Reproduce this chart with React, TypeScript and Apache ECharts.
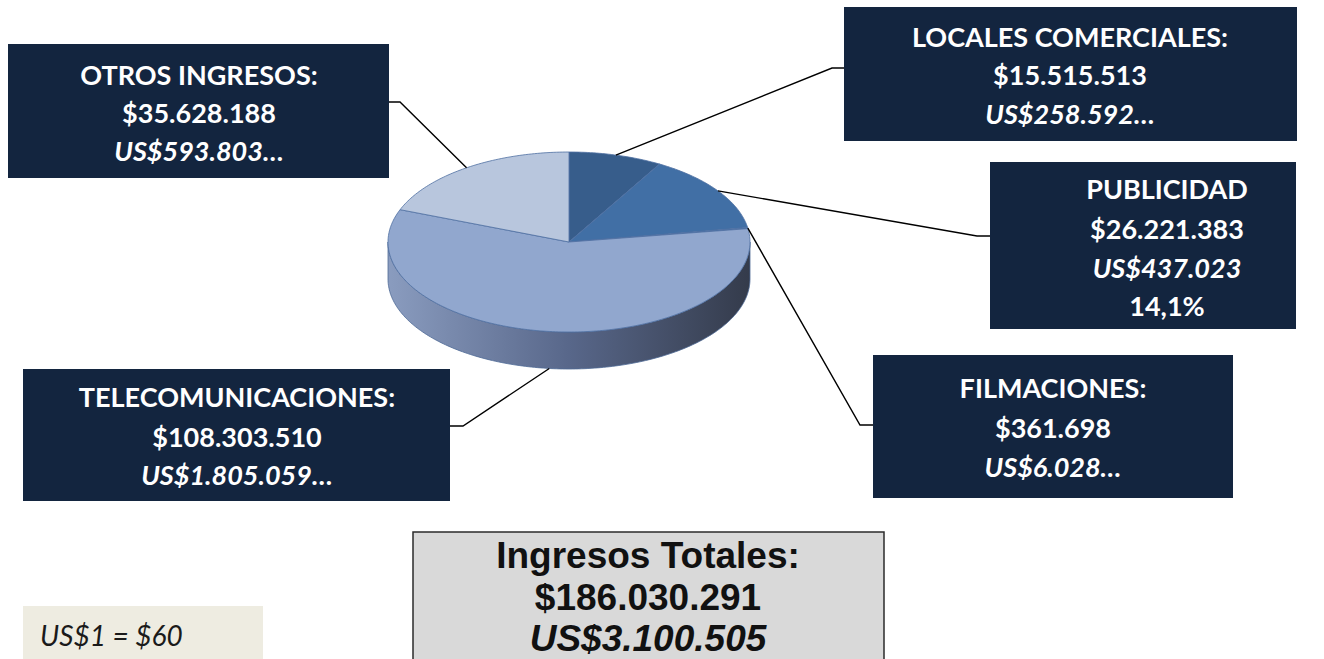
import React, { useEffect, useRef } from "react";
import * as echarts from "echarts";

const categories = ["LOCALES COMERCIALES", "PUBLICIDAD", "FILMACIONES", "TELECOMUNICACIONES", "OTROS INGRESOS"];
const valuesCLP = [15515513, 26221383, 361698, 108303510, 35628188];
const valuesUSD = [258592, 437023, 6028, 1805059, 593803];
const titleColon = [true, false, true, true, true];
const usdEllipsis = [true, false, true, true, true];
const showPercent = [false, true, false, false, false];
const sliceColors = ["#375D8B", "#416FA5", "#4A78B0", "#91A7CE", "#B8C6DD"];
const totalCLP = 186030291;
const totalUSD = 3100505;
const exchangeNote = "US$1 = $60";
const totalTitle = "Ingresos Totales:";

// layout (positions only)
const CX = 569, CY = 242, RX = 181, RY = 90, DEPTH = 37;
const boxes = [
  { x: 844, y: 7, w: 453, h: 134, tx: 1070, ty: [36, 74, 113], elbow: [832, 68], edge: [845, 68] },
  { x: 990, y: 162, w: 306, h: 167, tx: 1167, ty: [188, 228, 267, 305], elbow: [977, 236], edge: [990, 236] },
  { x: 873, y: 355, w: 360, h: 143, tx: 1053, ty: [387, 427, 466], elbow: [860, 425], edge: [873, 425] },
  { x: 23, y: 369, w: 427, h: 132, tx: 237, ty: [396, 436, 474], elbow: [463, 426], edge: [450, 426] },
  { x: 8, y: 44, w: 381, h: 134, tx: 199, ty: [74, 112, 150], elbow: [400, 102], edge: [389, 102] },
];

const fmt = (n: number) => String(n).replace(/\B(?=(\d{3})+(?!\d))/g, ".");

function pt(theta: number, dy = 0): number[] {
  const r = (theta * Math.PI) / 180;
  return [CX + RX * Math.sin(r), CY - RY * Math.cos(r) + dy];
}

function arc(a: number, b: number, dy = 0): number[][] {
  const pts: number[][] = [];
  const n = Math.max(2, Math.ceil(Math.abs(b - a) / 1));
  for (let i = 0; i <= n; i++) pts.push(pt(a + ((b - a) * i) / n, dy));
  return pts;
}

export default function App() {
  const ref = useRef<HTMLDivElement>(null);
  useEffect(() => {
    document.body.style.margin = "0";
    const chart = echarts.init(ref.current!, undefined, { renderer: "svg" });
    const sum = valuesCLP.reduce((s, v) => s + v, 0);
    const sideGrad = new echarts.graphic.LinearGradient(
      CX - RX, 0, CX + RX, 0,
      [
        { offset: 0, color: "#8A9CBF" },
        { offset: 0.5, color: "#58678A" },
        { offset: 1, color: "#343B4B" },
      ],
      true
    );

    const renderItem = (params: any, api: any) => {
      const i = params.dataIndex;
      let before = 0;
      for (let k = 0; k < i; k++) before += valuesCLP[k];
      const v = api.value(0);
      const a = (before / sum) * 360;
      const b = ((before + v) / sum) * 360;
      const children: any[] = [];
      const sa = Math.max(a, 90), sb = Math.min(b, 270);
      if (sb > sa) {
        const top = arc(sa, sb);
        const bot = arc(sb, sa, DEPTH);
        children.push({
          type: "polygon",
          shape: { points: top.concat(bot) },
          style: { fill: sideGrad, stroke: "#4E6A96", lineWidth: 0.8 },
        });
      }
      children.push({
        type: "polygon",
        shape: { points: [[CX, CY]].concat(arc(a, b)) },
        style: { fill: sliceColors[i], stroke: "#4F70A2", lineWidth: 0.8 },
      });
      const mid = (a + b) / 2;
      const front = Math.cos((mid * Math.PI) / 180) < 0;
      const p = pt(mid, front ? DEPTH : 0);
      const bx = boxes[i];
      children.push({
        type: "polyline",
        shape: { points: [p, bx.elbow, bx.edge] },
        style: { stroke: "#000", lineWidth: 1.4, fill: null },
        z2: 10,
      });
      return { type: "group", children };
    };

    const graphics: any[] = [];
    categories.forEach((c, i) => {
      const bx = boxes[i];
      graphics.push({
        type: "rect",
        shape: { x: bx.x, y: bx.y, width: bx.w, height: bx.h },
        style: { fill: "#13253F" },
        z: 5,
      });
      const lines: { t: string; it: boolean }[] = [
        { t: c + (titleColon[i] ? ":" : ""), it: false },
        { t: "$" + fmt(valuesCLP[i]), it: false },
        { t: "US$" + fmt(valuesUSD[i]) + (usdEllipsis[i] ? "…" : ""), it: true },
      ];
      if (showPercent[i]) lines.push({ t: ((valuesCLP[i] / sum) * 100).toFixed(1).replace(".", ",") + "%", it: false });
      lines.forEach((ln, j) => {
        graphics.push({
          type: "text",
          z: 6,
          style: {
            text: ln.t,
            x: bx.tx,
            y: bx.ty[j],
            fill: "#FFFFFF",
            font: `${ln.it ? "italic " : ""}bold 27px Lato`,
            textAlign: "center",
            textVerticalAlign: "middle",
          },
        });
      });
    });
    graphics.push({
      type: "rect",
      shape: { x: 413, y: 532, width: 471, height: 140 },
      style: { fill: "#D9D9D9", stroke: "#2B2B2B", lineWidth: 1.5 },
      z: 5,
    });
    [
      { t: totalTitle, it: false, y: 555 },
      { t: "$" + fmt(totalCLP), it: false, y: 597 },
      { t: "US$" + fmt(totalUSD), it: true, y: 638 },
    ].forEach((ln) => {
      graphics.push({
        type: "text",
        z: 6,
        style: {
          text: ln.t,
          x: 648,
          y: ln.y,
          fill: "#111",
          font: `${ln.it ? "italic " : ""}bold 37px "Liberation Sans", Arial, sans-serif`,
          textAlign: "center",
          textVerticalAlign: "middle",
        },
      });
    });
    graphics.push({
      type: "rect",
      shape: { x: 23, y: 606, width: 240, height: 60 },
      style: { fill: "#EEECE1" },
      z: 5,
    });
    graphics.push({
      type: "text",
      z: 6,
      style: {
        text: exchangeNote,
        x: 40,
        y: 635,
        fill: "#1A1A1A",
        font: "italic 28px Lato",
        textAlign: "left",
        textVerticalAlign: "middle",
      },
    });

    chart.setOption({
      animation: false,
      backgroundColor: "#FFFFFF",
      series: [
        {
          type: "custom",
          coordinateSystem: "none",
          renderItem,
          data: valuesCLP.map((v) => [v]),
          silent: true,
        },
      ],
      graphic: graphics,
    });
    return () => chart.dispose();
  }, []);
  return <div ref={ref} style={{ width: 1324, height: 659, position: "absolute", left: 0, top: 0 }} />;
}
